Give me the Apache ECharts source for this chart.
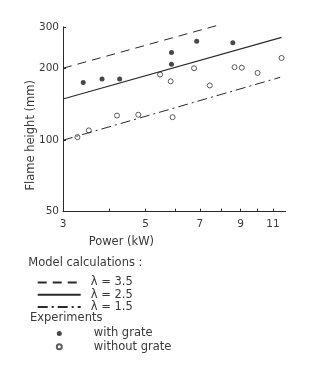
<!DOCTYPE html>
<html>
<head>
<meta charset="utf-8">
<script src="https://cdn.jsdelivr.net/npm/echarts@6/dist/echarts.min.js"></script>
<style>
html,body{margin:0;padding:0;background:#fff;}
#chart{width:325px;height:374px;}
</style>
</head>
<body>
<div id="chart"></div>
<script>
// ---- data (log-log plot) ----
const xTickValues = [3, 4, 5, 6, 7, 8, 9, 10, 11];
const xLabelValues = [3, 5, 7, 9, 11];
const yTickValues = [50, 100, 200, 300];
const yLabelValues = [50, 100, 200, 300];

const lambda35 = [[3, 201], [7.83, 305]];
const lambda25 = [[3, 149], [11.6, 271]];
const lambda15 = [[3, 100], [11.5, 184]];

const withGrate = [[3.40, 175], [3.82, 181], [4.26, 181], [5.87, 234], [5.87, 209], [6.86, 261], [8.58, 257]];
const withoutGrate = [[3.28, 103], [3.52, 110], [4.19, 127], [4.78, 128], [5.47, 189], [5.84, 177], [5.91, 125],
  [6.75, 201], [7.44, 170], [8.67, 203], [9.07, 202], [10.0, 192], [11.6, 222]];

const seriesNames = ['λ = 3.5', 'λ = 2.5', 'λ = 1.5', 'with grate', 'without grate'];
const headings = ['Model calculations :', 'Experiments'];

const FONT = 'DejaVu Sans';
const INK = '#2a2a2a';
const TXT = '#3a3a3a';

const chart = echarts.init(document.getElementById('chart'), null, {renderer: 'canvas'});
chart.setOption({
  animation: false,
  backgroundColor: '#fff',
  textStyle: {fontFamily: FONT},
  grid: {left: 63, right: 39.3, top: 26.9, bottom: 162.3, containLabel: false},
  xAxis: {
    type: 'log', logBase: 10, min: 3, max: 11.9,
    name: 'Power (kW)', nameLocation: 'middle', nameGap: 24, nameMoveOverlap: false,
    nameTextStyle: {fontFamily: FONT, fontSize: 11.5, color: TXT, padding: [0, 106, 0, 0]},
    axisLine: {show: true, lineStyle: {color: INK, width: 1}},
    axisTick: {show: true, inside: true, length: 3, customValues: xTickValues, lineStyle: {color: INK}},
    axisLabel: {customValues: xLabelValues, fontFamily: FONT, fontSize: 10.5, color: TXT, margin: 7},
    splitLine: {show: false}, minorTick: {show: false}
  },
  yAxis: {
    type: 'log', logBase: 10, min: 50, max: 300,
    name: 'Flame height (mm)', nameLocation: 'middle', nameGap: 26, nameMoveOverlap: false,
    nameTextStyle: {fontFamily: FONT, fontSize: 11.5, color: TXT, padding: [0, 32, 0, 0]},
    axisLine: {show: true, lineStyle: {color: INK, width: 1}},
    axisTick: {show: true, inside: true, length: 3, customValues: yTickValues, lineStyle: {color: INK}},
    axisLabel: {customValues: yLabelValues, fontFamily: FONT, fontSize: 10.5, color: TXT, margin: 4},
    splitLine: {show: false}, minorTick: {show: false}
  },
  legend: [
    {
      data: seriesNames.slice(0, 3), orient: 'vertical', left: 36.7, top: 276.5,
      itemWidth: 43, itemHeight: 12, itemGap: 0.3, padding: 0,
      itemStyle: {opacity: 0, borderWidth: 0},
      textStyle: {fontFamily: FONT, fontSize: 11.5, color: TXT, padding: [0, 0, 0, 5]}
    },
    {
      data: seriesNames.slice(3), orient: 'vertical', left: 55.8, top: 327.5,
      itemWidth: 5, itemHeight: 5, itemGap: 1.3, padding: 0,
      textStyle: {fontFamily: FONT, fontSize: 11.5, color: TXT, padding: [0, 0, 0, 27]}
    }
  ],
  graphic: [
    {type: 'text', left: 28.3, top: 257.5, style: {text: headings[0], font: '11.5px "DejaVu Sans"', fill: TXT}},
    {type: 'text', left: 30, top: 312.5, style: {text: headings[1], font: '11.5px "DejaVu Sans"', fill: TXT}}
  ],
  series: [
    {name: seriesNames[0], type: 'line', data: lambda35, symbol: 'none', clip: false,
      lineStyle: {color: INK, width: 1, type: [9, 6]}, itemStyle: {color: INK}},
    {name: seriesNames[1], type: 'line', data: lambda25, symbol: 'none',
      lineStyle: {color: INK, width: 1.1, type: 'solid'}, itemStyle: {color: INK}},
    {name: seriesNames[2], type: 'line', data: lambda15, symbol: 'none',
      lineStyle: {color: INK, width: 1, type: [10, 4, 2, 4]}, itemStyle: {color: INK}},
    {name: seriesNames[3], type: 'scatter', data: withGrate, symbol: 'circle', symbolSize: 5,
      itemStyle: {color: '#1a1a1a'}},
    {name: seriesNames[4], type: 'scatter', data: withoutGrate, symbol: 'circle', symbolSize: 5,
      itemStyle: {color: '#fff', borderColor: '#333', borderWidth: 1}}
  ]
});
</script>
</body>
</html>
